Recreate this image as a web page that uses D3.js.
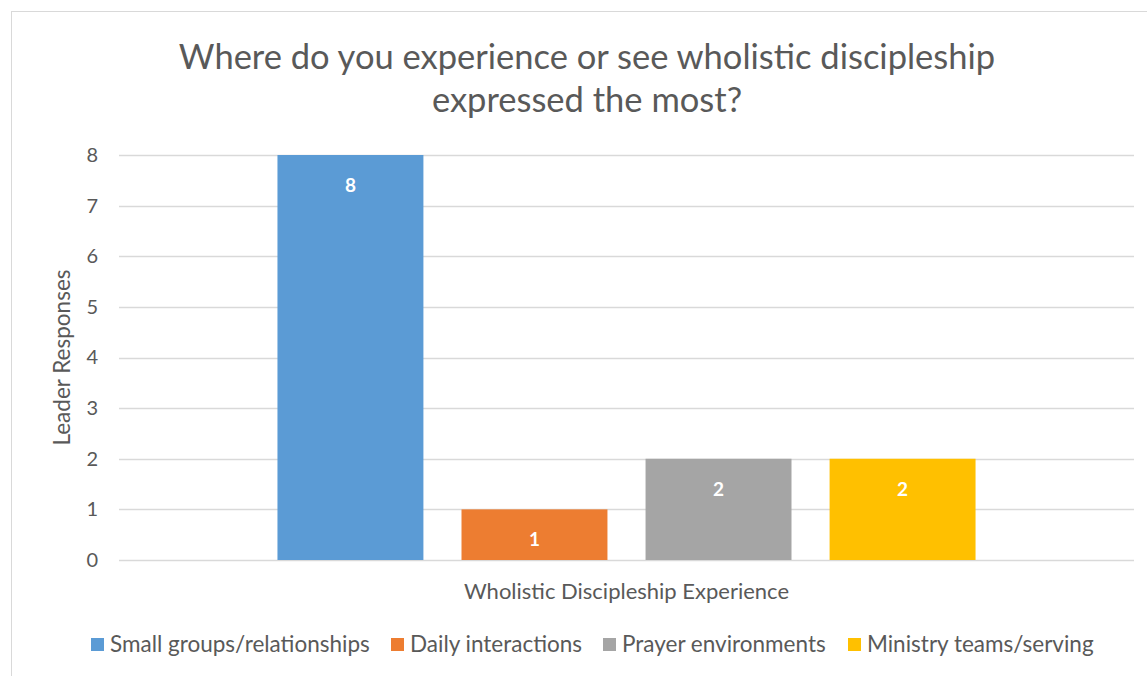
<!DOCTYPE html>
<html>
<head>
<meta charset="utf-8">
<script src="https://cdn.jsdelivr.net/npm/d3@7"></script>
<style>
  body { margin: 0; background: #fff; }
  text { font-family: Lato, "Open Sans", sans-serif; fill: #595959; }
</style>
</head>
<body>
<div class="board"></div>
<script>
// chart data
var category = "Wholistic Discipleship Experience";
var seriesNames = ["Small groups/relationships", "Daily interactions", "Prayer environments", "Ministry teams/serving"];
var seriesValues = [8, 1, 2, 2];
var seriesColors = ["#5B9BD5", "#ED7D31", "#A5A5A5", "#FFC000"];
var yTicks = [0, 1, 2, 3, 4, 5, 6, 7, 8];
var titleLines = ["Where do you experience or see wholistic discipleship", "expressed the most?"];
var yTitle = "Leader Responses";

var width = 1147, height = 676;
var plot = { left: 119, right: 1134, top: 155, bottom: 560 };

var svg = d3.select(".board").append("svg")
            .attr("width", width)
            .attr("height", height);

// chart border
svg.append("rect")
   .attr("x", 11.5).attr("y", 11.5)
   .attr("width", 1150).attr("height", 680)
   .attr("fill", "none")
   .attr("stroke", "#D9D9D9");

var y = d3.scaleLinear().domain([0, 8]).range([plot.bottom, plot.top]);

var x0 = d3.scaleBand().domain([category])
           .range([plot.left, plot.right])
           .paddingInner(0).paddingOuter(0.227);

var x1 = d3.scaleBand().domain(seriesNames)
           .range([0, x0.bandwidth()])
           .paddingInner(0.207).paddingOuter(0);

// gridlines
svg.append("g").selectAll("line")
   .data(yTicks)
   .enter().append("line")
   .attr("x1", plot.left).attr("x2", plot.right)
   .attr("y1", function(d) { return Math.round(y(d)) + 0.5; })
   .attr("y2", function(d) { return Math.round(y(d)) + 0.5; })
   .attr("stroke", "#D9D9D9")
   .attr("stroke-width", 1.3);

// y axis labels
var yAxis = d3.axisLeft(y).tickValues(yTicks).tickSize(0).tickPadding(0);
var yg = svg.append("g")
            .attr("transform", "translate(" + (plot.left - 21) + ",0)")
            .call(yAxis);
yg.select(".domain").remove();
yg.selectAll("text")
  .style("font-size", "20px")
  .style("fill", "#595959")
  .style("font-family", "Lato, 'Open Sans', sans-serif");

// bars
var data = seriesNames.map(function(n, i) {
  return { name: n, value: seriesValues[i], color: seriesColors[i] };
});

var barG = svg.append("g").attr("transform", "translate(" + x0(category) + ",0)");

barG.selectAll("rect")
    .data(data)
    .enter().append("rect")
    .attr("x", function(d) { return x1(d.name); })
    .attr("y", function(d) { return y(d.value); })
    .attr("width", x1.bandwidth())
    .attr("height", function(d) { return y(0) - y(d.value); })
    .attr("fill", function(d) { return d.color; });

// data labels
barG.selectAll("text.lbl")
    .data(data)
    .enter().append("text")
    .attr("class", "lbl")
    .attr("x", function(d) { return x1(d.name) + x1.bandwidth() / 2; })
    .attr("y", function(d) { return y(d.value) + 37; })
    .attr("text-anchor", "middle")
    .style("fill", "#fff")
    .style("font-weight", "bold")
    .style("font-size", "19px")
    .text(function(d) { return d.value; });

// title
svg.append("g").selectAll("text")
   .data(titleLines)
   .enter().append("text")
   .attr("x", 587)
   .attr("y", function(d, i) { return 69 + i * 43; })
   .attr("text-anchor", "middle")
   .style("font-size", "34.5px")
   .text(function(d) { return d; });

// axis titles
svg.append("text")
   .attr("x", (plot.left + plot.right) / 2)
   .attr("y", 599)
   .attr("text-anchor", "middle")
   .style("font-size", "22px")
   .text(category);

svg.append("text")
   .attr("transform", "translate(70," + ((plot.top + plot.bottom) / 2) + ") rotate(-90)")
   .attr("text-anchor", "middle")
   .style("font-size", "22.5px")
   .text(yTitle);

// legend
var legendX = [91, 391, 603, 848];
var lg = svg.append("g").selectAll("g")
            .data(data)
            .enter().append("g")
            .attr("transform", function(d, i) { return "translate(" + legendX[i] + ",638)"; });

lg.append("rect")
  .attr("width", 13).attr("height", 13)
  .attr("fill", function(d) { return d.color; });

lg.append("text")
  .attr("x", 19).attr("y", 14)
  .style("font-size", "22.5px")
  .text(function(d) { return d.name; });
</script>
</body>
</html>
